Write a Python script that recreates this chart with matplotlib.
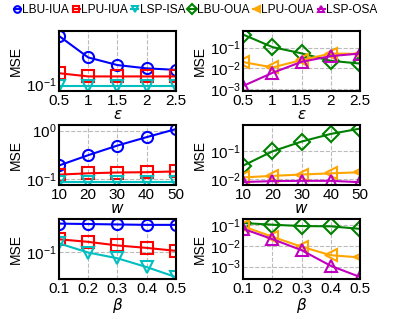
import numpy as np
import matplotlib.pyplot as plt
from matplotlib.ticker import NullFormatter, NullLocator

plt.rcParams["font.family"] = ["Liberation Sans", "DejaVu Sans"]
plt.rcParams["mathtext.fontset"] = "dejavusans"

# x values for each row
eps = [0.5, 1, 1.5, 2, 2.5]
win = [10, 20, 30, 40, 50]
beta = [0.1, 0.2, 0.3, 0.4, 0.5]

# left column (IUA / ISA)
lbu_iua_eps = [0.43, 0.226, 0.18, 0.163, 0.156]
lpu_iua_eps = [0.141, 0.128, 0.128, 0.128, 0.128]
lsp_isa_eps = [0.096, 0.096, 0.096, 0.096, 0.096]

lbu_iua_w = [0.19, 0.31, 0.49, 0.73, 1.07]
lpu_iua_w = [0.123, 0.131, 0.136, 0.138, 0.143]
lsp_isa_w = [0.085, 0.085, 0.085, 0.085, 0.085]

lbu_iua_b = [0.31, 0.305, 0.30, 0.295, 0.295]
lpu_iua_b = [0.166, 0.15, 0.13, 0.118, 0.105]
lsp_isa_b = [0.141, 0.098, 0.078, 0.055, 0.037]

# right column (OUA / OSA)
lbu_oua_eps = [0.43, 0.107, 0.053, 0.023, 0.017]
lpu_oua_eps = [0.02, 0.011, 0.025, 0.052, 0.05]
lsp_osa_eps = [0.0014, 0.006, 0.0206, 0.039, 0.052]

lbu_oua_w = [0.030, 0.095, 0.21, 0.39, 0.6]
lpu_oua_w = [0.0115, 0.013, 0.0145, 0.016, 0.0174]
lsp_osa_w = [0.0079, 0.0085, 0.0087, 0.0087, 0.0078]

lbu_oua_b = [0.13, 0.108, 0.093, 0.09, 0.068]
lpu_oua_b = [0.09, 0.028, 0.0093, 0.0036, 0.0028]
lsp_osa_b = [0.068, 0.0216, 0.0063, 0.0011, 0.00032]

styles = {
    "LBU-IUA": ("blue", "o"),
    "LPU-IUA": ("red", "s"),
    "LSP-ISA": ("c", "v"),
    "LBU-OUA": ("green", "D"),
    "LPU-OUA": ("orange", "<"),
    "LSP-OSA": ("m", "^"),
}

panels = [
    (0, 0, eps, r"$\epsilon$", [("LBU-IUA", lbu_iua_eps), ("LPU-IUA", lpu_iua_eps), ("LSP-ISA", lsp_isa_eps)], (0.083, 0.5)),
    (0, 1, eps, r"$\epsilon$", [("LBU-OUA", lbu_oua_eps), ("LPU-OUA", lpu_oua_eps), ("LSP-OSA", lsp_osa_eps)], (0.0008, 0.65)),
    (1, 0, win, r"$w$", [("LBU-IUA", lbu_iua_w), ("LPU-IUA", lpu_iua_w), ("LSP-ISA", lsp_isa_w)], (0.075, 1.3)),
    (1, 1, win, r"$w$", [("LBU-OUA", lbu_oua_w), ("LPU-OUA", lpu_oua_w), ("LSP-OSA", lsp_osa_w)], (0.0062, 0.8)),
    (2, 0, beta, r"$\beta$", [("LBU-IUA", lbu_iua_b), ("LPU-IUA", lpu_iua_b), ("LSP-ISA", lsp_isa_b)], (0.034, 0.37)),
    (2, 1, beta, r"$\beta$", [("LBU-OUA", lbu_oua_b), ("LPU-OUA", lpu_oua_b), ("LSP-OSA", lsp_osa_b)], (0.00025, 0.2)),
]

fig, axes = plt.subplots(3, 2, figsize=(3.99, 3.19), dpi=100)
fig.subplots_adjust(left=0.148, right=0.902, bottom=0.125, top=0.903,
                    wspace=0.58, hspace=0.57)

handles = {}
for r, c, x, xlabel, series, ylim in panels:
    ax = axes[r, c]
    for name, vals in series:
        color, marker = styles[name]
        (h,) = ax.plot(x, vals, color=color, marker=marker, markersize=8,
                       markerfacecolor="none", markeredgewidth=1.5,
                       linewidth=1.5, label=name)
        handles[name] = h
    ax.set_yscale("log")
    ax.set_ylim(*ylim)
    ax.set_xlim(x[0], x[-1])
    ax.set_xticks(x)
    ax.set_xticklabels([f"{v:g}" for v in x])
    ax.yaxis.set_minor_locator(NullLocator())
    ax.yaxis.set_minor_formatter(NullFormatter())
    ax.tick_params(length=0, labelsize=11, pad=2)
    ax.grid(True, linestyle="--", color="#bbbbbb", linewidth=0.8)
    ax.set_axisbelow(True)
    for s in ax.spines.values():
        s.set_linewidth(1.5)
    ax.set_xlabel(xlabel, fontsize=11, labelpad=0)
    ax.set_ylabel("MSE", fontsize=10, labelpad=2)

names = list(styles.keys())
fig.legend([handles[n] for n in names], names, loc="upper center",
           bbox_to_anchor=(0.49, 1.01), ncol=6, frameon=False, fontsize=8.6,
           handlelength=0.6, handletextpad=0.1, columnspacing=0.3,
           markerscale=0.6, borderaxespad=0.2)

plt.savefig("out.png", dpi=100)
